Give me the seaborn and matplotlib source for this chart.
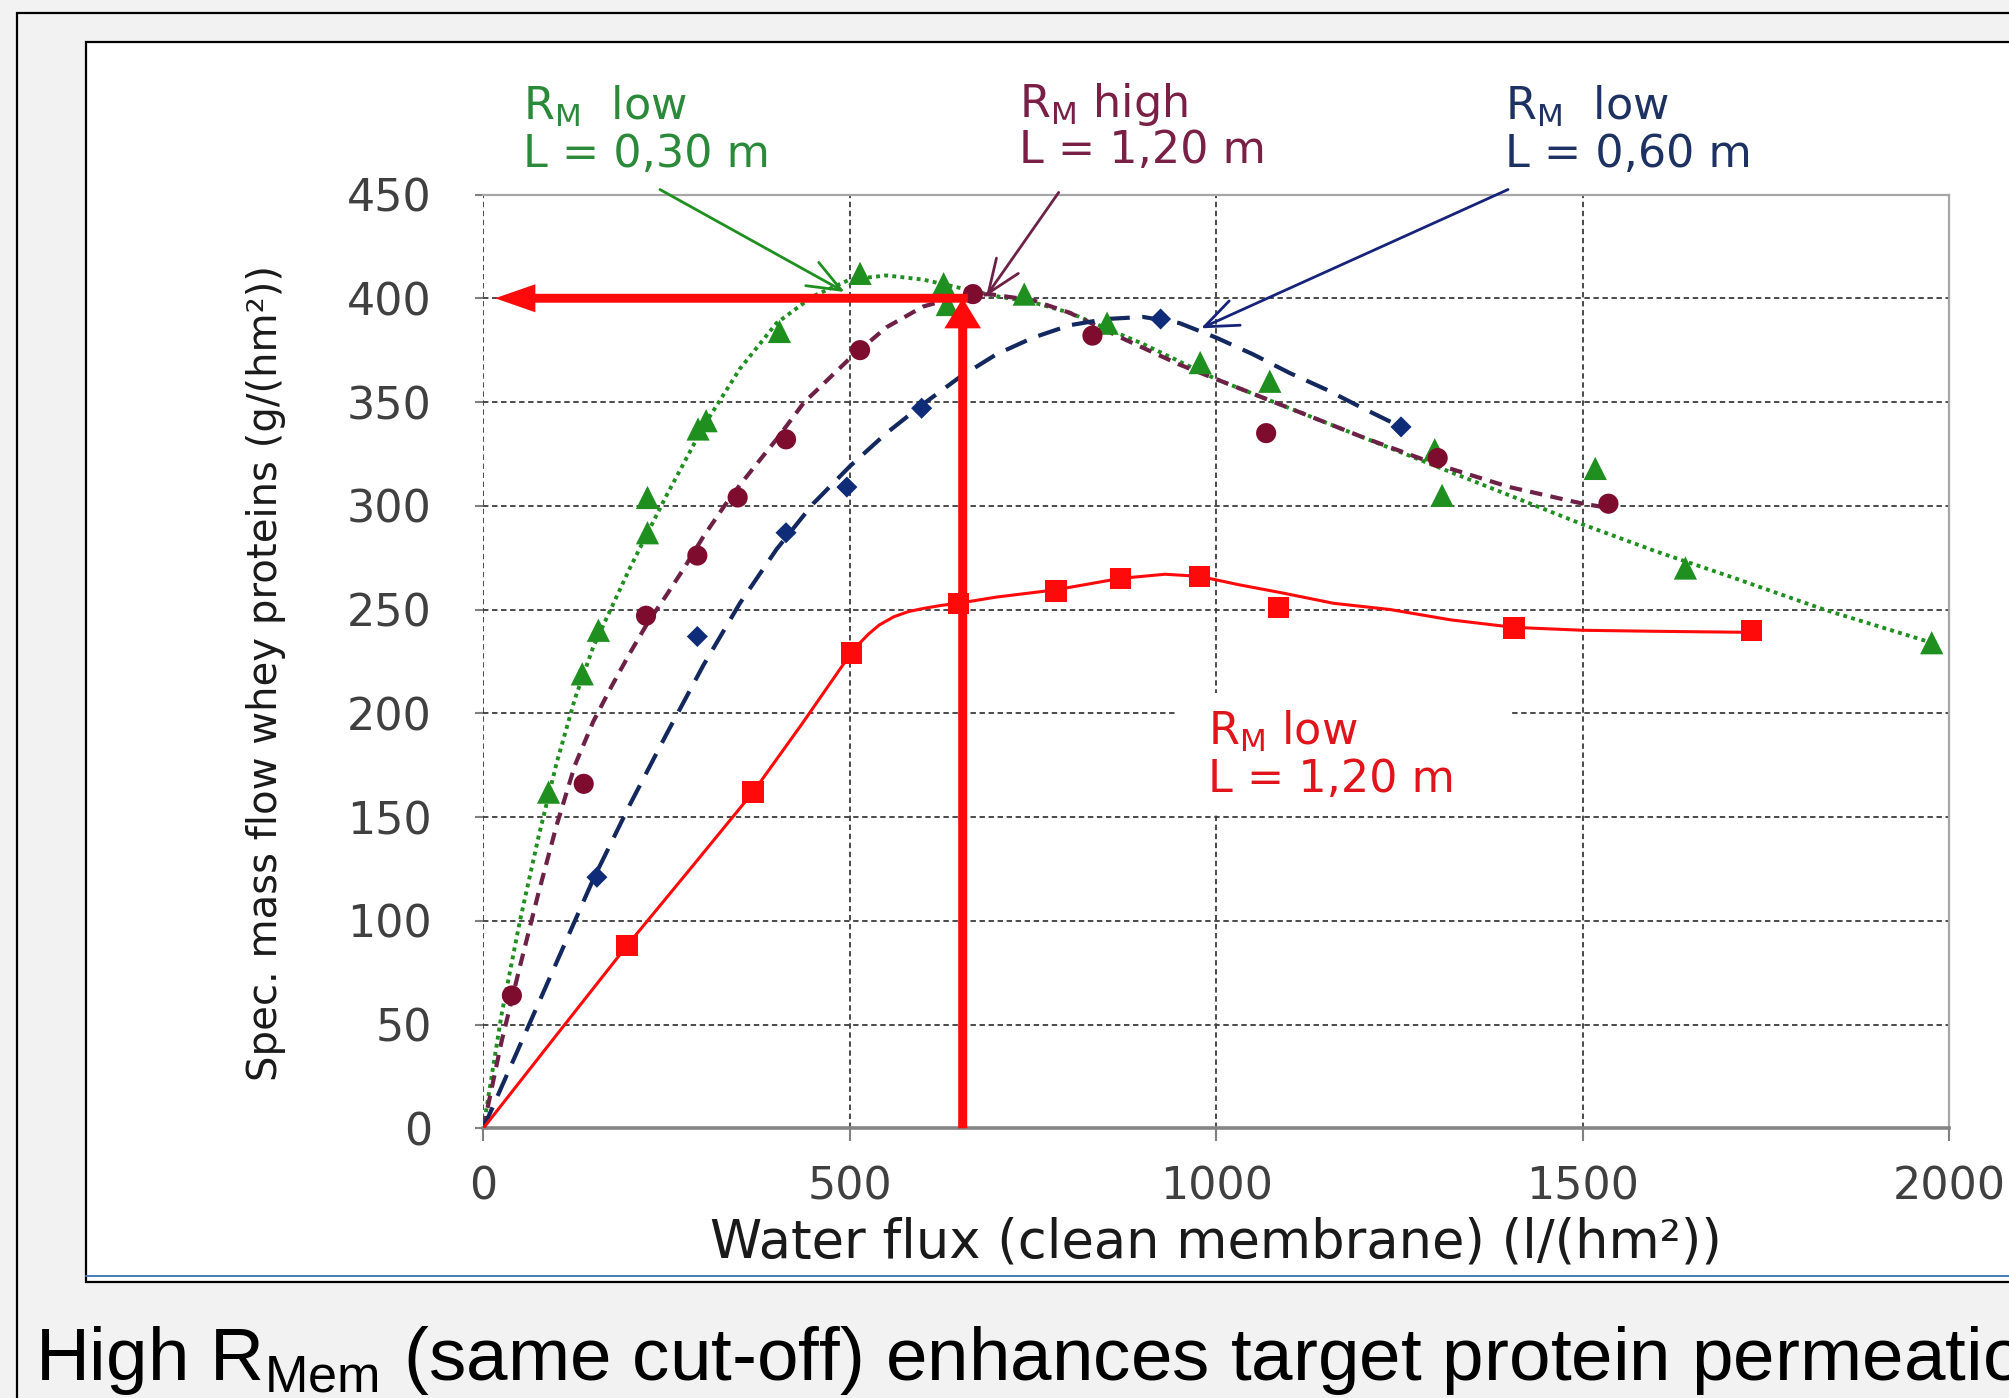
import matplotlib
matplotlib.use("Agg")
import matplotlib.pyplot as plt
from matplotlib.patches import Rectangle
from matplotlib.lines import Line2D
import seaborn as sns

# ---------------- data ----------------
# measured points
green_x = [89, 135, 157, 224, 224, 293, 304, 404, 514, 628, 633, 738, 851, 978, 1073, 1298, 1308, 1517, 1640, 1976]
green_y = [162, 219, 240, 287, 304, 337, 341, 384, 412, 407, 397, 402, 388, 369, 360, 327, 305, 318, 270, 234]

maroon_x = [39, 137, 222, 292, 347, 413, 514, 668, 831, 1068, 1302, 1535]
maroon_y = [64, 166, 247, 276, 304, 332, 375, 402, 382, 335, 323, 301]

navy_x = [155, 292, 413, 496, 598, 924, 1252]
navy_y = [121, 237, 287, 309, 347, 390, 338]

red_x = [196, 368, 502, 648, 781, 869, 977, 1085, 1406, 1730]
red_y = [88, 162, 229, 253, 259, 265, 266, 251, 241, 240]

# trend curves
green_fit_x = [0, 25, 50, 75, 100, 125, 150, 200, 250, 300, 350, 400, 450, 500, 550, 600, 650, 700,
               750, 800, 900, 1000, 1100, 1200, 1300, 1400, 1500, 1600, 1700, 1829, 1976]
green_fit_y = [0, 55, 100, 140, 176, 207, 232, 270, 305, 338, 366, 388, 401, 409, 411, 409, 405, 401,
               398, 393, 378, 361, 347, 333, 319, 305, 291, 278, 266, 250, 234]

maroon_fit_x = [0, 25, 50, 75, 100, 125, 150, 175, 200, 225, 250, 274, 300, 329, 350, 384, 400, 438, 450,
                500, 550, 600, 650, 690, 750, 800, 870, 950, 1000, 1100, 1200, 1300, 1400, 1500, 1535]
maroon_fit_y = [0, 42, 78, 113, 146, 175, 196, 213, 229, 244, 257, 270, 285, 300, 310, 325, 332, 350, 354,
                371, 386, 396, 401, 402, 399, 393, 381, 368, 361, 347, 333, 320, 309, 301, 299]

navy_fit_x = [0, 50, 100, 150, 175, 200, 250, 300, 350, 400, 450, 500, 550, 600, 650, 700, 750, 800,
              850, 900, 950, 1000, 1050, 1100, 1150, 1200, 1252]
navy_fit_y = [0, 40, 80, 120, 138, 156, 190, 223, 253, 279, 301, 319, 335, 349, 362, 373, 381, 387,
              390, 391, 388, 381, 373, 364, 356, 347, 338]

red_fit_x = [0, 100, 196, 280, 368, 435, 490, 510, 525, 540, 560, 580, 600, 625, 648, 700, 781, 869,
             930, 977, 1030, 1090, 1160, 1237, 1320, 1406, 1500, 1600, 1730]
red_fit_y = [0, 45, 88, 124, 162, 195, 223, 232.5, 238, 242.5, 246.5, 249, 250.5, 252, 253, 256, 259.5,
             265, 267, 266, 262, 258, 253, 250, 245, 241.4, 240, 239.5, 239]

# operating point (red arrows)
op_x = 654
op_y = 400
op_arrow_end_x = 16

x_ticks = [0, 500, 1000, 1500, 2000]
y_ticks = [0, 50, 100, 150, 200, 250, 300, 350, 400, 450]

labels_green = ["R$_\\mathregular{M}$  low", "L = 0,30 m"]
labels_maroon = ["R$_\\mathregular{M}$ high", "L = 1,20 m"]
labels_navy = ["R$_\\mathregular{M}$  low", "L = 0,60 m"]
labels_red = ["R$_\\mathregular{M}$ low", "L = 1,20 m"]

x_label = "Water flux (clean membrane) (l/(hm²))"
y_label = "Spec. mass flow whey proteins (g/(hm²))"
caption = "High R$_\\mathregular{Mem}$ (same cut-off) enhances target protein permeation"

# ---------------- style ----------------
sns.set_style("white")
plt.rcParams["font.family"] = ["DejaVu Sans"]

C_GREEN = "#1f8f1f"
C_GREEN_TXT = "#2b8a3a"
C_MAROON = "#7d0c2e"
C_MAROON_LINE = "#6e2147"
C_MAROON_TXT = "#7a2046"
C_NAVY = "#0f2c78"
C_NAVY_LINE = "#12285e"
C_NAVY_TXT = "#1e3163"
C_RED = "#ff0a0a"
C_RED_TXT = "#e0141a"

W, H = 2009, 1398
fig = plt.figure(figsize=(W / 100, H / 100), dpi=100, facecolor="#f2f2f2")

# slide frame and chart box
fig.add_artist(Rectangle((17 / W, -0.05), 2, 1 - 13 / H + 0.05, transform=fig.transFigure,
                         fill=False, ec="black", lw=1.6, zorder=-6))
fig.add_artist(Rectangle((86 / W, 1 - 1282 / H), 2, (1282 - 42) / H, transform=fig.transFigure,
                         fc="white", ec="black", lw=1.6, zorder=-5))
fig.add_artist(Line2D([86 / W, 1], [1 - 1276 / H] * 2, transform=fig.transFigure,
                      color="#4a7ebb", lw=1.4, zorder=-4))

ax = fig.add_axes([483.3 / W, 1 - 1128.3 / H, 1466 / W, 933.8 / H])
ax.set_facecolor("white")

# ---------------- curves ----------------
sns.lineplot(x=green_fit_x, y=green_fit_y, ax=ax, color=C_GREEN, lw=2.8,
             linestyle=(0, (1, 1.1)), sort=False, estimator=None, zorder=3)
sns.lineplot(x=maroon_fit_x, y=maroon_fit_y, ax=ax, color=C_MAROON_LINE, lw=3.0,
             linestyle=(0, (3, 2)), sort=False, estimator=None, zorder=3)
sns.lineplot(x=navy_fit_x, y=navy_fit_y, ax=ax, color=C_NAVY_LINE, lw=3.0,
             linestyle=(0, (5.5, 3)), sort=False, estimator=None, zorder=3)
sns.lineplot(x=red_fit_x, y=red_fit_y, ax=ax, color=C_RED, lw=2.2,
             sort=False, estimator=None, zorder=3)

# ---------------- markers ----------------
sns.scatterplot(x=green_x, y=green_y, ax=ax, marker="^", s=280, color=C_GREEN, edgecolor="none", zorder=4)
sns.scatterplot(x=maroon_x, y=maroon_y, ax=ax, marker="o", s=210, color=C_MAROON, edgecolor="none", zorder=4)
sns.scatterplot(x=navy_x, y=navy_y, ax=ax, marker="D", s=115, color=C_NAVY, edgecolor="none", zorder=4)
sns.scatterplot(x=red_x, y=red_y, ax=ax, marker="s", s=240, color=C_RED, edgecolor="none", zorder=4)

# ---------------- axes ----------------
ax.set_xlim(x_ticks[0], x_ticks[-1])
ax.set_ylim(y_ticks[0], y_ticks[-1])
ax.set_xticks(x_ticks)
ax.set_yticks(y_ticks)
ax.set_xticklabels([str(v) for v in x_ticks])
ax.set_yticklabels([str(v) for v in y_ticks])
ax.set_axisbelow(True)
ax.grid(True, color="#3c3c3c", lw=1.3, linestyle=(0, (3, 2)))

for side in ["top", "right"]:
    ax.spines[side].set_visible(True)
    ax.spines[side].set_color("#a6a6a6")
    ax.spines[side].set_linewidth(1.6)
ax.spines["left"].set_visible(False)
ax.spines["bottom"].set_color("#858585")
ax.spines["bottom"].set_linewidth(2.6)

ax.tick_params(axis="x", length=9, width=1.5, color="#808080", pad=18,
               labelsize=32, labelcolor="#404040", direction="out", bottom=True)
ax.tick_params(axis="y", length=6, width=1.5, color="#808080", pad=31,
               labelsize=32, labelcolor="#404040", direction="out", left=True)

ax.set_xlabel(x_label, fontsize=38, color="#1a1a1a")
ax.set_ylabel(y_label, fontsize=29, color="#1a1a1a")
ax.xaxis.set_label_coords(0.5, -0.094)
ax.yaxis.set_label_coords(-0.1346, 0.488)

# ---------------- annotations ----------------
LBL_SIZE = 32

def two_line(x, y1, y2, lines, color):
    ax.text(x, y1, lines[0], fontsize=LBL_SIZE, color=color, ha="left", va="baseline", clip_on=False)
    ax.text(x, y2, lines[1], fontsize=LBL_SIZE, color=color, ha="left", va="baseline", clip_on=False)

two_line(54, 486, 463.4, labels_green, C_GREEN_TXT)
two_line(731, 487.5, 465, labels_maroon, C_MAROON_TXT)
two_line(1394, 486, 463.4, labels_navy, C_NAVY_TXT)

# white box behind the red label
ax.add_patch(Rectangle((945, 152), 458, 58, fc="white", ec="none", zorder=1.5))
two_line(988, 184.7, 162.2, labels_red, C_RED_TXT)

arrow_kw = dict(arrowstyle="->,head_length=0.8,head_width=0.32", lw=2.0, mutation_scale=30,
                shrinkA=0, shrinkB=0)
ax.annotate("", xy=(493, 403), xytext=(241, 452.4), annotation_clip=False,
            arrowprops=dict(color=C_GREEN, **arrow_kw), zorder=5)
ax.annotate("", xy=(686, 401), xytext=(785, 451), annotation_clip=False,
            arrowprops=dict(color=C_MAROON_LINE, **arrow_kw), zorder=5)
ax.annotate("", xy=(979, 385.5), xytext=(1398, 452.4), annotation_clip=False,
            arrowprops=dict(color="#17237a", **arrow_kw), zorder=5)

# big red arrows (operating point)
ax.arrow(op_x, 0, 0, op_y, width=12.3, head_width=50, head_length=14.5,
         length_includes_head=True, color=C_RED, lw=0, zorder=6, clip_on=False)
ax.arrow(op_x + 7, op_y, op_arrow_end_x - op_x - 7, 0, width=4.3, head_width=13.5, head_length=55,
         length_includes_head=True, color=C_RED, lw=0, zorder=6, clip_on=False)

# ---------------- caption ----------------
fig.text(35 / W, 1 - 1380 / H, caption, fontsize=53.8, color="black", ha="left", va="baseline",
         family=["Liberation Sans", "DejaVu Sans"])

fig.savefig("out.png", dpi=100, facecolor=fig.get_facecolor())
